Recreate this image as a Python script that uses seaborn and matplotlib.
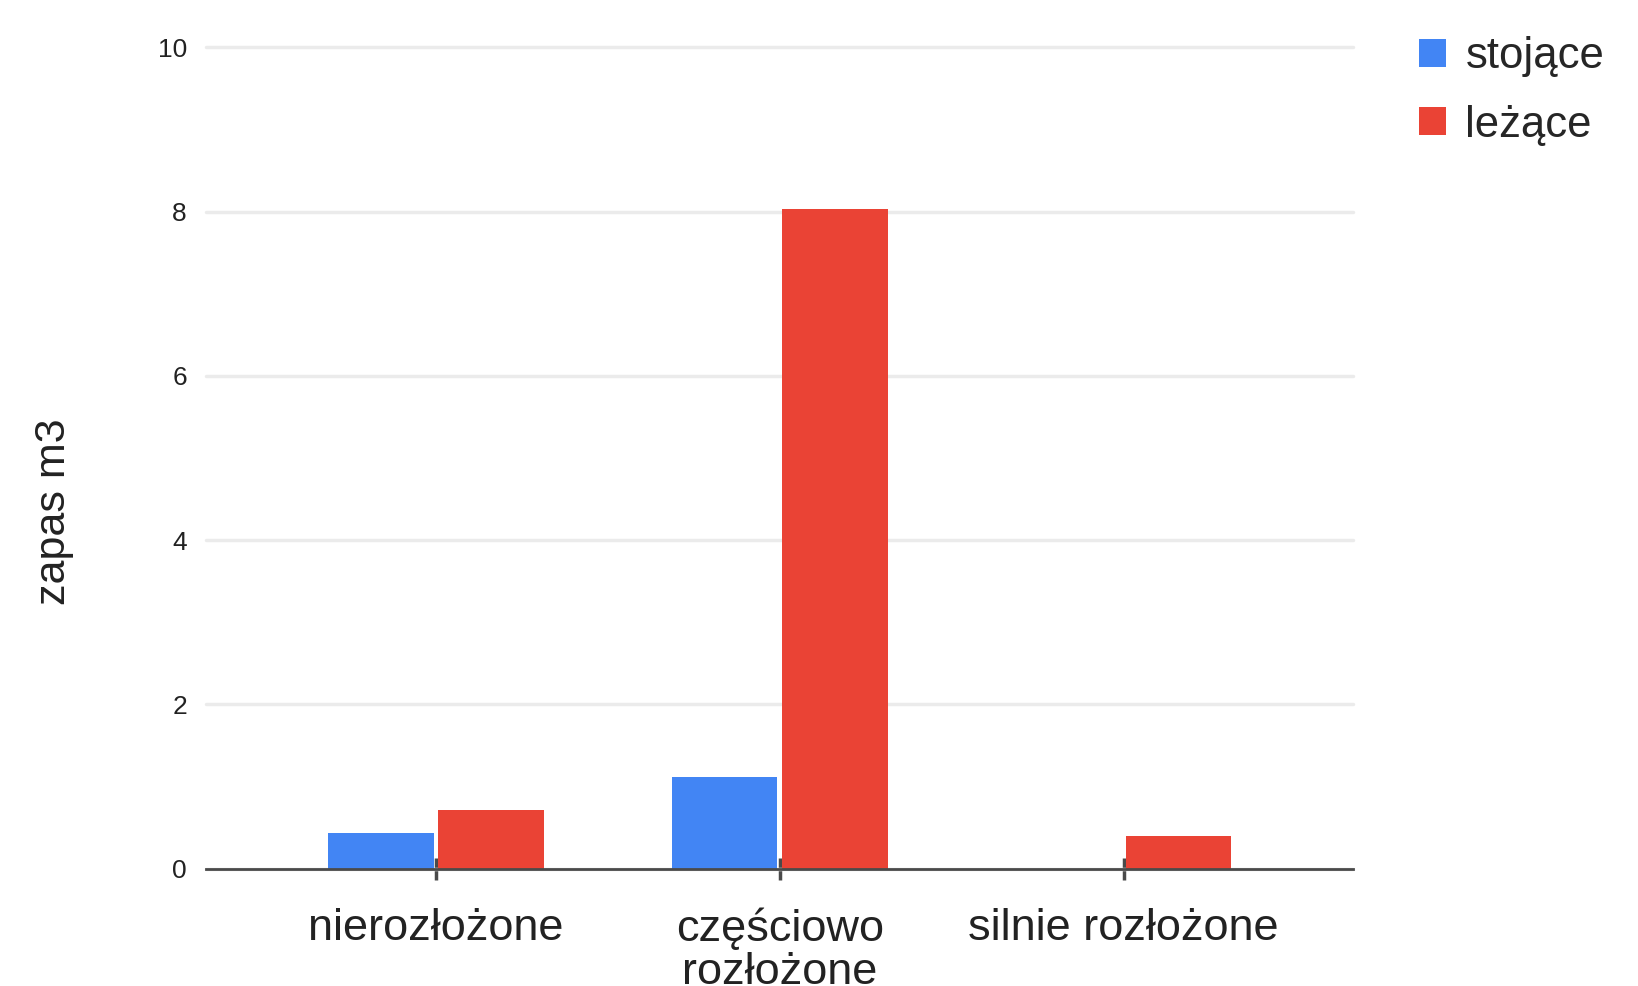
import pandas as pd
import matplotlib.pyplot as plt
import seaborn as sns
from matplotlib.patches import Patch

# dane
categories = ['nierozłożone', 'częściowo\nrozłożone', 'silnie rozłożone']
series = ['stojące', 'leżące']
stojace = [0.43, 1.11, 0.0]
lezace = [0.71, 8.03, 0.40]
colors = ['#4285F4', '#EA4335']

df = pd.DataFrame({
    'kategoria': categories * 2,
    'typ': [series[0]] * 3 + [series[1]] * 3,
    'zapas': stojace + lezace,
})

sns.set_style('white')
plt.rcParams['font.family'] = ['Liberation Sans', 'DejaVu Sans']

fig = plt.figure(figsize=(16.38, 9.86), dpi=100)
ax = fig.add_axes([0.126, 0.119, 0.700, 0.833])

sns.barplot(data=df, x='kategoria', y='zapas', hue='typ', order=categories,
            hue_order=series, palette=colors, width=0.64, gap=0.04,
            saturation=1, linewidth=0, ax=ax, legend=False)

ax.set_ylim(0, 10)
ax.set_xlim(-0.667, 2.667)
ax.set_yticks([0, 2, 4, 6, 8, 10])

# siatka
ax.set_axisbelow(True)
ax.yaxis.grid(True, color='#ebebeb', linewidth=2.5)
for line in ax.get_ygridlines():
    line.set_clip_on(False)

for s in ['left', 'top', 'right']:
    ax.spines[s].set_visible(False)
ax.spines['bottom'].set_color('#4a4a4a')
ax.spines['bottom'].set_linewidth(2)

ax.tick_params(axis='y', left=False, length=0, pad=14, labelsize=19,
               labelcolor='#222222')
ax.tick_params(axis='x', bottom=True, direction='inout', length=16, width=2.5,
               color='#4a4a4a', pad=20, labelsize=32.5, labelcolor='#222222')
for t in ax.get_xticklabels():
    t.set_linespacing(1.05)

ax.set_xlabel('')
ax.set_ylabel('')
fig.text(54 / 1638, 1 - 512 / 986, 'zapas m3', rotation=90, ha='center',
         va='center', fontsize=31, color='#222222')

handles = [Patch(facecolor=c, edgecolor='none') for c in colors]
ax.legend(handles, series, loc='upper left', bbox_to_anchor=(0.866, 0.963),
          bbox_transform=fig.transFigure, frameon=False, fontsize=31.5,
          handlelength=0.62, handleheight=0.62, handletextpad=0.45,
          labelspacing=0.62, borderpad=0, borderaxespad=0)

plt.savefig('out.png', dpi=100)
plt.close()
